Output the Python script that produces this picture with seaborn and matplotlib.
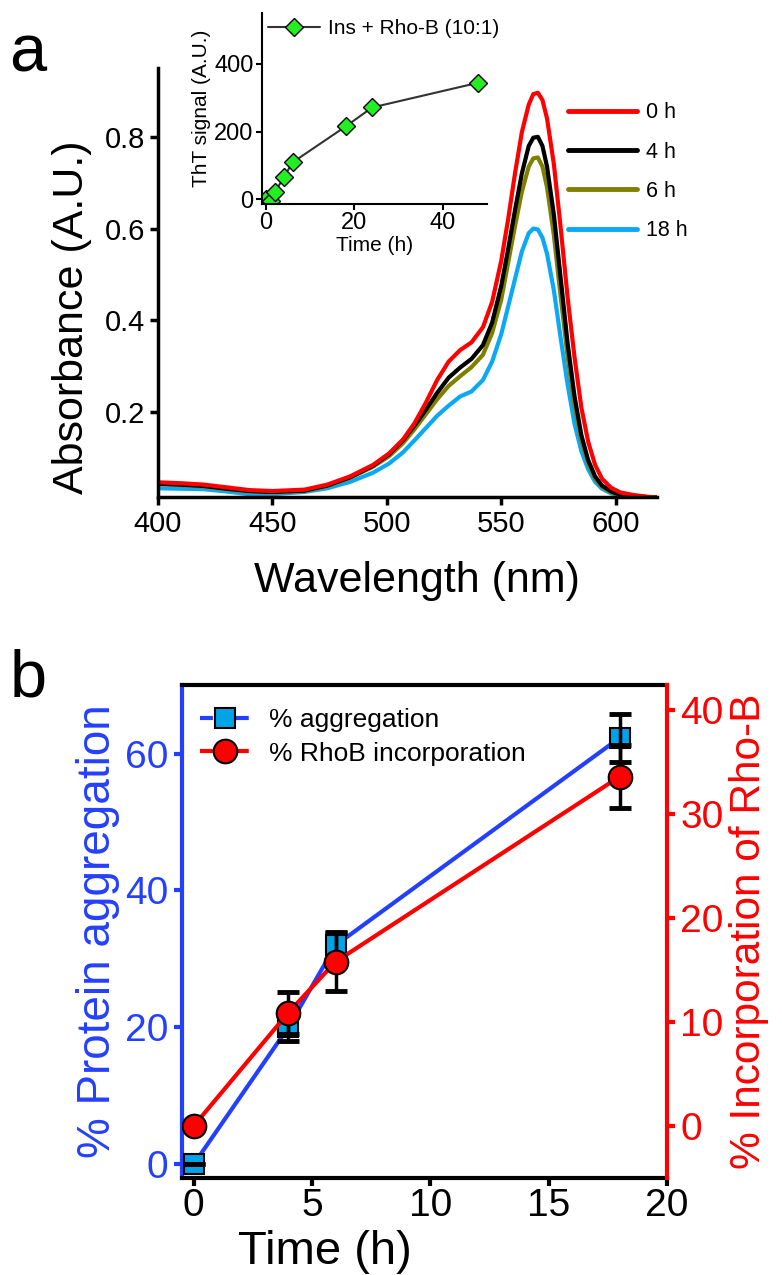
import numpy as np
import pandas as pd
import matplotlib
matplotlib.use("Agg")
import matplotlib.pyplot as plt
import seaborn as sns

# ---- panel a: absorbance spectra ----
wavelength = [400, 410, 420, 430, 440, 450, 464, 474, 484, 494, 501, 507, 512, 517,
              522, 527, 532, 537, 542, 546, 550, 553, 556, 559, 562, 564, 566, 568,
              570, 573, 576, 579, 582, 585, 588, 591, 594, 598, 602, 607, 613, 618]
abs_0h = [0.047, 0.045, 0.042, 0.036, 0.030, 0.028, 0.031, 0.042, 0.060, 0.085, 0.110,
          0.140, 0.175, 0.220, 0.270, 0.310, 0.335, 0.352, 0.385, 0.440, 0.530, 0.620,
          0.720, 0.810, 0.870, 0.893, 0.896, 0.880, 0.840, 0.740, 0.600, 0.450, 0.320,
          0.210, 0.135, 0.085, 0.055, 0.035, 0.025, 0.020, 0.016, 0.014]
abs_4h = [0.044, 0.042, 0.039, 0.033, 0.028, 0.026, 0.029, 0.040, 0.058, 0.083, 0.108,
          0.138, 0.170, 0.205, 0.242, 0.275, 0.297, 0.316, 0.346, 0.395, 0.475, 0.555,
          0.640, 0.720, 0.780, 0.798, 0.800, 0.780, 0.735, 0.630, 0.490, 0.350, 0.235,
          0.150, 0.095, 0.060, 0.040, 0.027, 0.020, 0.017, 0.015, 0.014]
abs_6h = [0.043, 0.041, 0.038, 0.032, 0.027, 0.025, 0.028, 0.039, 0.057, 0.081, 0.104,
          0.132, 0.162, 0.195, 0.228, 0.257, 0.278, 0.298, 0.325, 0.372, 0.445, 0.525,
          0.605, 0.680, 0.735, 0.753, 0.755, 0.735, 0.690, 0.585, 0.450, 0.320, 0.215,
          0.138, 0.088, 0.055, 0.037, 0.025, 0.019, 0.016, 0.015, 0.014]
abs_18h = [0.034, 0.033, 0.032, 0.027, 0.021, 0.021, 0.026, 0.034, 0.048, 0.068, 0.088,
           0.112, 0.138, 0.165, 0.192, 0.214, 0.234, 0.245, 0.270, 0.310, 0.370, 0.430,
           0.490, 0.550, 0.590, 0.600, 0.598, 0.580, 0.545, 0.465, 0.360, 0.260, 0.175,
           0.115, 0.075, 0.048, 0.033, 0.023, 0.018, 0.016, 0.014, 0.013]
spectra_labels = ["0 h", "4 h", "6 h", "18 h"]
spectra_colors = ["#FF0000", "#000000", "#808000", "#0AA8F5"]

# ---- inset: ThT kinetics ----
tht_time = [0, 1, 2, 4, 6, 18, 24, 48]
tht_signal = [0, -4, 21, 65, 109, 215, 271, 344]

# ---- panel b: aggregation / incorporation ----
time_b = [0, 4, 6, 18]
aggregation = [0, 20, 32, 62.3]
aggregation_err = [0, 2, 2, 3.5]
rhob = [0, 10.9, 15.8, 33.6]
rhob_err = [0, 2, 2.8, 3]

sns.set_style("ticks")
plt.rcParams["font.family"] = ["Liberation Sans", "DejaVu Sans"]
plt.rcParams.update({"text.color": "black", "axes.labelcolor": "black",
                     "xtick.color": "black", "ytick.color": "black",
                     "axes.edgecolor": "black"})

fig = plt.figure(figsize=(7.82, 12.75), dpi=100)

# panel a
ax = fig.add_axes([0.202, 0.6102, 0.638, 0.3365])
spec = pd.DataFrame({"wavelength": wavelength * 4,
                     "absorbance": abs_0h + abs_4h + abs_6h + abs_18h,
                     "time": sum([[lab] * len(wavelength) for lab in spectra_labels], [])})
sns.lineplot(data=spec, x="wavelength", y="absorbance", hue="time",
             hue_order=spectra_labels[::-1], palette=dict(zip(spectra_labels, spectra_colors)),
             linewidth=3, ax=ax, legend=False, sort=False)
ax.set_xlim(400, 618)
ax.set_ylim(0.015, 0.95)
ax.set_xticks([400, 450, 500, 550, 600])
ax.set_yticks([0.2, 0.4, 0.6, 0.8])
ax.tick_params(labelsize=21, width=2.5, length=6)
ax.set_xlabel("Wavelength (nm)", fontsize=31)
ax.set_ylabel("Absorbance (A.U.)", fontsize=31)
ax.xaxis.set_label_coords(0.52, -0.149)
ax.yaxis.set_label_coords(-0.133, 0.42)
sns.despine(ax=ax)
for s in ["left", "bottom"]:
    ax.spines[s].set_linewidth(2.5)
handles = [plt.Line2D([], [], color=c, lw=3.5) for c in spectra_colors]
ax.legend(handles, spectra_labels, loc="upper left", bbox_to_anchor=(0.80, 0.945),
          frameon=False, fontsize=15.5, handlelength=3.2, labelspacing=0.85,
          handletextpad=0.45, borderpad=0)
fig.text(0.012, 0.957, "a", fontsize=48, va="center")

# inset
axi = fig.add_axes([0.3347, 0.84, 0.288, 0.1498])
sns.lineplot(x=tht_time, y=tht_signal, ax=axi, color="#333333", linewidth=1.5,
             marker="D", markersize=9, markerfacecolor="#22EE22",
             markeredgecolor="black", markeredgewidth=1, label="Ins + Rho-B (10:1)")
axi.set_xlim(-1, 50)
axi.set_ylim(-14, 550)
axi.set_xticks([0, 20, 40])
axi.set_yticks([0, 200, 400])
axi.tick_params(labelsize=17, width=1.5, length=4, pad=2)
axi.set_xlabel("Time (h)", fontsize=15, labelpad=1)
axi.set_ylabel("ThT signal (A.U.)", fontsize=15, labelpad=2)
sns.despine(ax=axi)
for s in ["left", "bottom"]:
    axi.spines[s].set_linewidth(1.5)
axi.legend(loc="upper left", frameon=False, fontsize=15, handlelength=2.5,
           borderpad=0.1, borderaxespad=0.2, handletextpad=0.4)

# panel b
blue_line = "#2440FF"
red_line = "#FF0000"
axb = fig.add_axes([0.2324, 0.076, 0.6206, 0.3867])
sns.lineplot(x=time_b, y=aggregation, ax=axb, color=blue_line, linewidth=3,
             marker="s", markersize=15, markerfacecolor="#00A2E8",
             markeredgecolor="black", markeredgewidth=1.5, zorder=3)
axb.errorbar(time_b, aggregation, yerr=aggregation_err, fmt="none", ecolor="black",
             elinewidth=2.5, capsize=8, capthick=3.5, zorder=4)
axb.set_xlim(-0.5, 20)
axb.set_ylim(-2, 70)
axb.set_xticks([0, 5, 10, 15, 20])
axb.set_yticks([0, 20, 40, 60])
axb.tick_params(axis="x", labelsize=28, width=3, length=6, pad=1)
axb.tick_params(axis="y", labelsize=28, width=3, length=6, colors=blue_line)
axb.set_xlabel("Time (h)", fontsize=34)
axb.xaxis.set_label_coords(0.295, -0.105)
axb.set_ylabel("% Protein aggregation", fontsize=33, color=blue_line)
axb.spines["left"].set_color(blue_line)
for s in ["left", "bottom", "top"]:
    axb.spines[s].set_linewidth(3)
axb.spines["right"].set_visible(False)

axr = axb.twinx()
axr.errorbar(time_b, rhob, yerr=rhob_err, fmt="none", ecolor="black",
             elinewidth=2.5, capsize=8, capthick=3.5, zorder=2)
sns.lineplot(x=time_b, y=rhob, ax=axr, color=red_line, linewidth=3,
             marker="o", markersize=17, markerfacecolor="#FF0000",
             markeredgecolor="black", markeredgewidth=1.5, zorder=3)
axr.set_ylim(-5, 42.4)
axr.set_yticks([0, 10, 20, 30, 40])
axr.tick_params(axis="y", labelsize=28, width=3, length=6, colors=red_line)
axr.set_ylabel("% Incorporation of Rho-B", fontsize=30.5, color=red_line)
axr.spines["right"].set_color(red_line)
axr.spines["right"].set_linewidth(3)
for s in ["left", "bottom", "top"]:
    axr.spines[s].set_visible(False)

leg_handles = [
    plt.Line2D([], [], color=blue_line, lw=3, ls=(0, (3.1, 1.2)), marker="s", markersize=15,
               markerfacecolor="#00A2E8", markeredgecolor="black", markeredgewidth=1.5),
    plt.Line2D([], [], color=red_line, lw=3, ls=(0, (3.1, 1.2)), marker="o", markersize=17,
               markerfacecolor="#FF0000", markeredgecolor="black", markeredgewidth=1.5),
]
axr.legend(leg_handles, ["% aggregation", "% RhoB incorporation"], loc="upper left",
           bbox_to_anchor=(0.0, 0.99), frameon=False, fontsize=19, handlelength=1.9,
           labelspacing=0.35, borderaxespad=0.3, handletextpad=0.7)
fig.text(0.012, 0.467, "b", fontsize=48, va="center")

fig.savefig("out.png", dpi=100)
